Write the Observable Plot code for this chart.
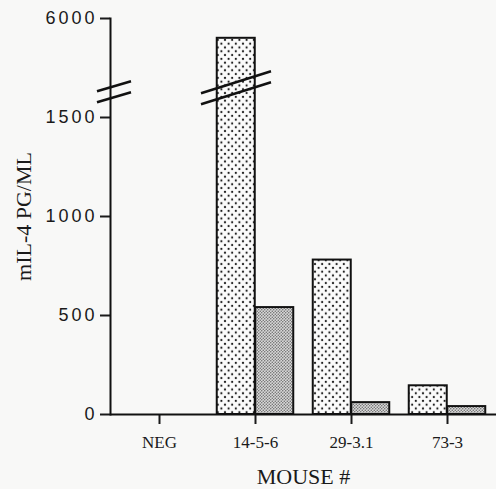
<!DOCTYPE html>
<html><head><meta charset="utf-8">
<script src="https://cdn.jsdelivr.net/npm/d3@7"></script>
<script src="https://cdn.jsdelivr.net/npm/@observablehq/plot@0.6"></script>
<style>
html,body{margin:0;padding:0;background:#f8f8f7;}
#chart svg{display:block;}
g[aria-label="y-axis tick label"] text{font-family:"Liberation Sans",Arial,sans-serif;font-size:18px;letter-spacing:3px;}
g[aria-label="x-axis tick label"] text{font-family:"Liberation Serif","Times New Roman",serif;font-size:17px;}
g[aria-label="y-axis label"] text{font-family:"Liberation Serif","Times New Roman",serif;font-size:22px;}
g[aria-label="x-axis label"] text{font-family:"Liberation Serif","Times New Roman",serif;font-size:22px;}
</style></head><body><div id="chart"></div>
<script>
// ---- data ----
const mice = ["NEG", "14-5-6", "29-3.1", "73-3"];
const seriesA = [0, 5900, 780, 145];   // light stippled bars
const seriesB = [0, 540, 60, 40];      // dark stippled bars
const yTicks = [0, 500, 1000, 1500, 6000];
const yBreak = [1600, 5600];           // axis break: 1600 .. 5600 omitted

const rowsA = mice.map((m, i) => ({mouse: m, value: seriesA[i]}));
const rowsB = mice.map((m, i) => ({mouse: m, value: seriesB[i]}));

const gap = yBreak[1] - yBreak[0];
const squeeze = v => (v > yBreak[0] ? Math.max(yBreak[0], v - gap) : v);
const unsqueeze = t => (t > yBreak[0] ? t + gap : t);

const W = 496, H = 489, ML = 110, MR = 0, MT = 18, MB = 75;
const bw = (W - ML - MR) / mice.length;
const barW = 38.5;
const side = bw / 2 - barW;

const chart = Plot.plot({
  width: W, height: H,
  marginLeft: ML, marginRight: MR, marginTop: MT, marginBottom: MB,
  style: {background: "transparent", color: "#1a1a1a"},
  x: {domain: mice, padding: 0},
  y: {domain: [0, squeeze(6000)], transform: squeeze},
  marks: [
    Plot.barY(rowsA, {x: "mouse", y1: 0, y2: "value", fill: "url(#dotsLight)", stroke: "#111", strokeWidth: 2, insetLeft: side, insetRight: bw / 2}),
    Plot.barY(rowsB, {x: "mouse", y1: 0, y2: "value", fill: "url(#dotsDark)", stroke: "#111", strokeWidth: 2, insetLeft: bw / 2, insetRight: side}),
    Plot.axisY({ticks: yTicks.map(squeeze), tickFormat: t => String(unsqueeze(t)), tickSize: 10, tickPadding: 3, strokeWidth: 2, label: "mIL-4 PG/ML", labelAnchor: "center", labelOffset: 95, labelArrow: "none"}),
    Plot.axisX({tickSize: 10, tickPadding: 11, strokeWidth: 2, label: "MOUSE #", labelAnchor: "center", labelOffset: 69, labelArrow: "none"}),
    Plot.frame({anchor: "left", strokeWidth: 2, stroke: "#111"}),
    Plot.ruleY([0], {strokeWidth: 2, stroke: "#111"})
  ]
});

// patterns
const svg = d3.select(chart);
const defs = svg.insert("defs", ":first-child");
const pl = defs.append("pattern").attr("id", "dotsLight").attr("patternUnits", "userSpaceOnUse").attr("width", 7.2).attr("height", 7.6);
pl.append("rect").attr("width", 7.2).attr("height", 7.6).attr("fill", "#fbfbfb");
pl.append("circle").attr("cx", 1.8).attr("cy", 1.9).attr("r", 1.1).attr("fill", "#1a1a1a");
pl.append("circle").attr("cx", 5.4).attr("cy", 5.7).attr("r", 1.1).attr("fill", "#1a1a1a");
const pd = defs.append("pattern").attr("id", "dotsDark").attr("patternUnits", "userSpaceOnUse").attr("width", 3).attr("height", 3);
pd.append("rect").attr("width", 3).attr("height", 3).attr("fill", "#d9d9d9");
pd.append("circle").attr("cx", 0.75).attr("cy", 0.75).attr("r", 0.75).attr("fill", "#666");
pd.append("circle").attr("cx", 2.25).attr("cy", 2.25).attr("r", 0.75).attr("fill", "#666");

// break marks, positioned through the scales
const xs = chart.scale("x"), ys = chart.scale("y");
const yb = ys.apply(squeeze(yBreak[0]));
const axisX0 = xs.range[0];
const tallIdx = seriesA.indexOf(d3.max(seriesA));
const barCx = xs.apply(mice[tallIdx]) + side + barW / 2;
const breaks = [
  {cx: axisX0 + 4, cy: yb - 11, hx: 17, hy: 5},
  {cx: axisX0 + 4, cy: yb, hx: 17, hy: 5},
  {cx: barCx, cy: yb - 15, hx: 35, hy: 11},
  {cx: barCx, cy: yb - 4, hx: 35, hy: 11}
];
const g = svg.append("g");
for (const b of breaks) {
  g.append("line").attr("x1", b.cx - b.hx).attr("y1", b.cy + b.hy).attr("x2", b.cx + b.hx).attr("y2", b.cy - b.hy)
    .attr("stroke", "#111").attr("stroke-width", 2.5);
}
document.getElementById("chart").append(chart);
</script>
</body></html>
